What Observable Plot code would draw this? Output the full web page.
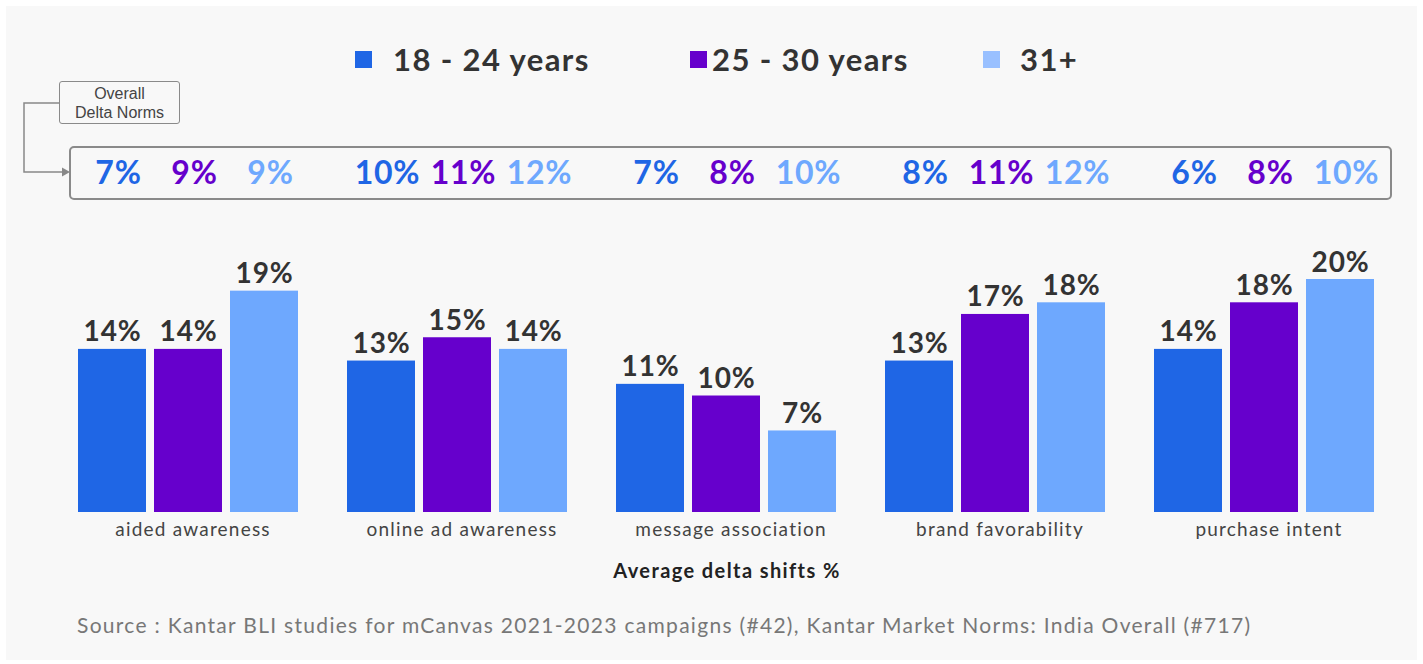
<!DOCTYPE html>
<html>
<head>
<meta charset="utf-8">
<script src="https://cdn.jsdelivr.net/npm/d3@7"></script>
<script src="https://cdn.jsdelivr.net/npm/@observablehq/plot@0.6"></script>
<style>
  html, body { margin: 0; padding: 0; background: #ffffff; }
  body { width: 1423px; height: 664px; position: relative; overflow: hidden; font-family: Lato, "Open Sans", sans-serif; }
  #bg { position: absolute; left: 6px; top: 6px; right: 6px; bottom: 4px; background: #f8f8f8; }
  .abs { position: absolute; }
  .sw { position: absolute; width: 17px; height: 17px; top: 51px; }
  .lg { position: absolute; top: 40px; font-size: 31px; font-weight: 700; color: #333; line-height: 38px; white-space: nowrap; letter-spacing: 1.4px; }
  #normLabel { left: 59px; top: 81px; width: 119px; border: 1.5px solid #8a8a8a; border-radius: 3px;
    font-family: "Liberation Sans", Arial, sans-serif; font-size: 16px; color: #444; text-align: center; line-height: 19px;
    box-sizing: content-box; padding-top: 2px; height: 39px; }
  #normBox { left: 69px; top: 146px; width: 1319px; height: 50px; border: 2px solid #8a8a8a; border-radius: 5px; }
  #chart { position: absolute; left: 0; top: 140px; }
  #chart svg text { letter-spacing: 0.8px; }
  #chart g[aria-label="fx-axis tick label"] text { letter-spacing: 1.2px; }
  #axisTitle { left: 527px; width: 400px; top: 558px; text-align: center; font-size: 20px; font-weight: 700; color: #222; letter-spacing: 1.4px; }
  #source { left: 77px; top: 612px; font-size: 21px; color: #777; white-space: nowrap; letter-spacing: 1.3px; }
</style>
</head>
<body>
<div id="bg"></div>
<div id="legend"></div>
<svg class="abs" style="left:0;top:0" width="120" height="220">
  <polyline points="59,103 24,103 24,172 62,172" fill="none" stroke="#888" stroke-width="1.5"/>
  <polygon points="62,167.5 70,172 62,176.5" fill="#888"/>
</svg>
<div id="normLabel" class="abs">Overall<br>Delta Norms</div>
<div id="normBox" class="abs"></div>
<div id="chart"></div>
<div id="axisTitle" class="abs">Average delta shifts %</div>
<div id="source" class="abs">Source : Kantar BLI studies for mCanvas 2021-2023 campaigns (#42), Kantar Market Norms: India Overall (#717)</div>
<script>
const categories = ["aided awareness", "online ad awareness", "message association", "brand favorability", "purchase intent"];
const series = ["18 - 24 years", "25 - 30 years", "31+"];
const colors = ["#1f66e5", "#6600cc", "#6ea8fe"];
const legendColors = ["#1f66e5", "#6600cc", "#99c0ff"];
const values18to24 = [14, 13, 11, 13, 14];
const values25to30 = [14, 15, 10, 17, 18];
const values31plus = [19, 14, 7, 18, 20];
const norms18to24 = [7, 10, 7, 8, 6];
const norms25to30 = [9, 11, 8, 11, 8];
const norms31plus = [9, 12, 10, 12, 10];

const valueSets = [values18to24, values25to30, values31plus];
const normSets = [norms18to24, norms25to30, norms31plus];

const data = categories.flatMap((c, i) => series.map((s, j) => ({category: c, series: s, value: valueSets[j][i]})));
const norms = categories.flatMap((c, i) => series.map((s, j) => ({category: c, series: s, value: normSets[j][i]})));

// legend
const legendPos = [[355, 393], [690, 712], [983, 1020]];
const legend = document.getElementById("legend");
series.forEach((s, j) => {
  const sw = document.createElement("div");
  sw.className = "sw";
  sw.style.left = legendPos[j][0] + "px";
  sw.style.background = legendColors[j];
  legend.appendChild(sw);
  const t = document.createElement("div");
  t.className = "lg";
  t.style.left = legendPos[j][1] + "px";
  t.textContent = s;
  legend.appendChild(t);
});

const chart = Plot.plot({
  width: 1423,
  height: 410,
  marginLeft: 78,
  marginRight: 47,
  marginTop: 33,
  marginBottom: 38,
  style: {fontFamily: "Lato, sans-serif", fontSize: "19px", color: "#444", background: "transparent", overflow: "visible"},
  fx: {domain: categories, paddingInner: 0.178, paddingOuter: 0, label: null},
  x: {domain: series, paddingInner: 0.1, paddingOuter: 0, axis: null},
  y: {domain: [0, 20], range: [372, 139], axis: null},
  color: {domain: series, range: colors},
  marks: [
    Plot.barY(data, {fx: "category", x: "series", y: "value", fill: "series"}),
    Plot.text(data, {fx: "category", x: "series", y: "value", text: d => `${d.value}%`, lineAnchor: "bottom", dy: -8,
      fontSize: 28, fontWeight: "bold", fill: "#333"}),
    Plot.text(norms, {fx: "category", x: "series", text: d => `${d.value}%`, frameAnchor: "top", lineAnchor: "middle",
      fill: "series", fontSize: 32, fontWeight: "bold", dx: 6}),
    Plot.axisFx({anchor: "bottom", tickSize: 0, tickPadding: 10, label: null, fontSize: 19, dx: 4})
  ]
});
document.getElementById("chart").appendChild(chart);
</script>
</body>
</html>
